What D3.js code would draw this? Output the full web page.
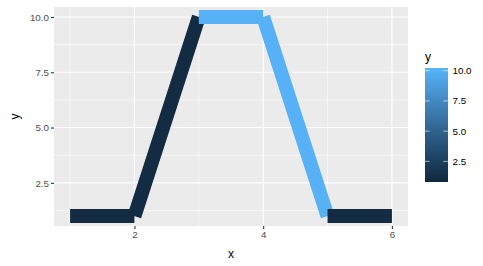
<!DOCTYPE html>
<html lang='en'>
<head>
    <meta charset='UTF-8' />
    <title>Line coloured by y</title>
    <script src="https://cdn.jsdelivr.net/npm/d3@7"></script>
    <style>
        html, body { margin: 0; background: white; }
        text { font-family: "Liberation Sans", Arial, sans-serif; }
    </style>
</head>
<body>
<div id="container"></div>
<script>
    // data
    const xValues = [1, 2, 3, 4, 5, 6];
    const yValues = [1, 1, 10, 10, 1, 1];
    const xTicks = [2, 4, 6];
    const yTicks = [2.5, 5.0, 7.5, 10.0];
    const legendTicks = [2.5, 5.0, 7.5, 10.0];

    const width = 483, height = 266;
    const panel = { left: 54, right: 408, top: 7, bottom: 226 };

    const svg = d3.select("#container").append("svg")
        .attr("width", width).attr("height", height);

    const x = d3.scaleLinear().domain([0.75, 6.25]).range([panel.left, panel.right]);
    const y = d3.scaleLinear().domain([0.55, 10.45]).range([panel.bottom, panel.top]);
    const colour = d3.scaleLinear().domain([1, 10]).range(["#132B43", "#56B1F7"])
        .interpolate(d3.interpolateLab);

    // panel background
    svg.append("rect")
        .attr("x", panel.left).attr("y", panel.top)
        .attr("width", panel.right - panel.left).attr("height", panel.bottom - panel.top)
        .attr("fill", "#EBEBEB");

    // minor grid
    const xMinor = [1, 3, 5];
    const yMinor = [1.25, 3.75, 6.25, 8.75];
    const grid = svg.append("g");
    grid.selectAll(".xminor").data(xMinor).join("line")
        .attr("x1", d => x(d)).attr("x2", d => x(d))
        .attr("y1", panel.top).attr("y2", panel.bottom)
        .attr("stroke", "white").attr("stroke-width", 0.55);
    grid.selectAll(".yminor").data(yMinor).join("line")
        .attr("y1", d => y(d)).attr("y2", d => y(d))
        .attr("x1", panel.left).attr("x2", panel.right)
        .attr("stroke", "white").attr("stroke-width", 0.55);
    // major grid
    grid.selectAll(".xmajor").data(xTicks).join("line")
        .attr("x1", d => x(d)).attr("x2", d => x(d))
        .attr("y1", panel.top).attr("y2", panel.bottom)
        .attr("stroke", "white").attr("stroke-width", 1.1);
    grid.selectAll(".ymajor").data(yTicks).join("line")
        .attr("y1", d => y(d)).attr("y2", d => y(d))
        .attr("x1", panel.left).attr("x2", panel.right)
        .attr("stroke", "white").attr("stroke-width", 1.1);

    // line segments, each coloured by its starting point
    const points = xValues.map((v, i) => ({ x: v, y: yValues[i] }));
    const segments = d3.pairs(points);
    svg.append("g").selectAll("line").data(segments).join("line")
        .attr("x1", d => x(d[0].x)).attr("y1", d => y(d[0].y))
        .attr("x2", d => x(d[1].x)).attr("y2", d => y(d[1].y))
        .attr("stroke", d => colour(d[0].y))
        .attr("stroke-width", 14)
        .attr("stroke-linecap", "butt");

    // axes
    const xAxis = svg.append("g")
        .attr("transform", `translate(0,${panel.bottom})`)
        .call(d3.axisBottom(x).tickValues(xTicks).tickSize(3).tickPadding(2).tickFormat(d3.format("d")));
    const yAxis = svg.append("g")
        .attr("transform", `translate(${panel.left},0)`)
        .call(d3.axisLeft(y).tickValues(yTicks).tickSize(3).tickPadding(2).tickFormat(d3.format(".1f")));
    [xAxis, yAxis].forEach(a => {
        a.select(".domain").remove();
        a.selectAll(".tick line").attr("stroke", "#333333").attr("stroke-width", 1.1);
        a.selectAll(".tick text").attr("fill", "#4D4D4D").style("font-size", "9.8px")
            .style("font-family", "'Liberation Sans', Arial, sans-serif");
    });

    // axis titles
    svg.append("text").attr("x", (panel.left + panel.right) / 2).attr("y", 258)
        .attr("text-anchor", "middle").style("font-size", "12px").text("x");
    svg.append("text")
        .attr("transform", `translate(19,${(panel.top + panel.bottom) / 2}) rotate(-90)`)
        .attr("text-anchor", "middle").style("font-size", "12px").text("y");

    // legend colour bar
    const legend = { left: 425, width: 23, top: 68, bottom: 182 };
    const ly = d3.scaleLinear().domain([1, 10]).range([179.5, 70.7]);
    const defs = svg.append("defs");
    const grad = defs.append("linearGradient").attr("id", "bar")
        .attr("x1", 0).attr("y1", 1).attr("x2", 0).attr("y2", 0);
    grad.selectAll("stop").data(d3.range(0, 1.0001, 0.1)).join("stop")
        .attr("offset", d => d)
        .attr("stop-color", d => colour(ly.invert(legend.bottom - d * (legend.bottom - legend.top))));
    svg.append("rect")
        .attr("x", legend.left).attr("y", legend.top)
        .attr("width", legend.width).attr("height", legend.bottom - legend.top)
        .attr("fill", "url(#bar)");
    const lt = svg.append("g");
    lt.selectAll(".tl").data(legendTicks).join("line")
        .attr("x1", legend.left).attr("x2", legend.left + 4.6)
        .attr("y1", d => ly(d)).attr("y2", d => ly(d))
        .attr("stroke", "white").attr("stroke-width", 0.6);
    lt.selectAll(".tr").data(legendTicks).join("line")
        .attr("x1", legend.left + legend.width - 4.6).attr("x2", legend.left + legend.width)
        .attr("y1", d => ly(d)).attr("y2", d => ly(d))
        .attr("stroke", "white").attr("stroke-width", 0.6);
    lt.selectAll("text").data(legendTicks).join("text")
        .attr("x", legend.left + legend.width + 4.5).attr("y", d => ly(d))
        .attr("dy", "0.35em").style("font-size", "9.8px").attr("fill", "black")
        .text(d => d3.format(".1f")(d));
    svg.append("text").attr("x", legend.left).attr("y", 61)
        .style("font-size", "12px").text("y");
</script>
</body>
</html>
